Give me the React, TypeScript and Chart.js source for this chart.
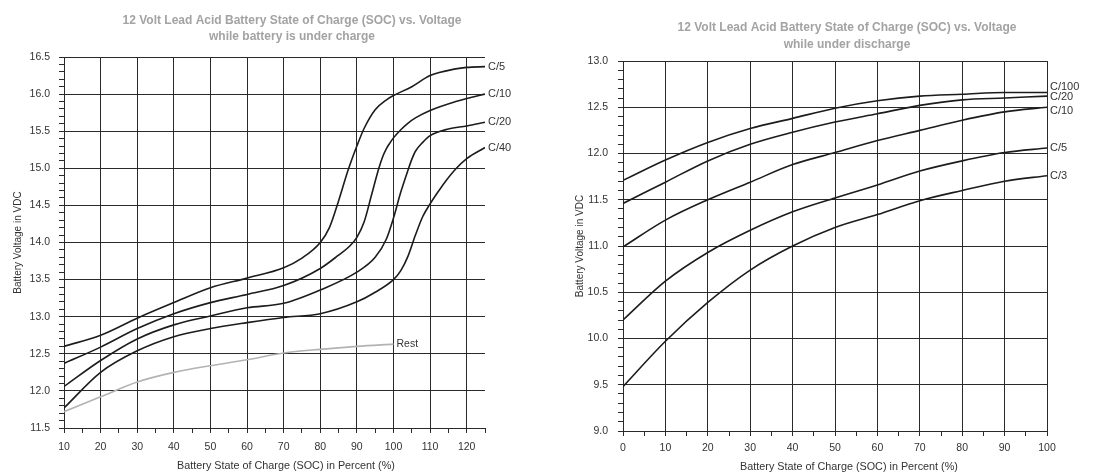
import React, { useEffect, useRef } from "react";
import { Chart, registerables } from "chart.js";

Chart.register(...registerables);

// ---------- Left chart: under charge ----------
const chargeTitle = ["12 Volt Lead Acid Battery State of Charge (SOC) vs. Voltage", "while battery is under charge"];
const c5X = [10, 20, 30, 40, 50, 60, 70, 75, 80, 82.5, 85, 87.5, 90, 92, 95, 98, 100, 105, 110, 117, 120, 125];
const c5Y = [12.6, 12.75, 12.98, 13.19, 13.39, 13.52, 13.66, 13.79, 14.0, 14.2, 14.56, 14.96, 15.3, 15.54, 15.79, 15.92, 15.98, 16.1, 16.25, 16.34, 16.36, 16.37];
const c10X = [10, 20, 30, 40, 50, 60, 70, 80, 85, 88, 90, 92, 94, 96, 97, 98, 99, 100, 102, 104, 106, 110, 117, 120, 125];
const c10Y = [12.37, 12.59, 12.84, 13.04, 13.19, 13.3, 13.42, 13.65, 13.83, 13.95, 14.07, 14.28, 14.64, 15.0, 15.15, 15.26, 15.34, 15.41, 15.52, 15.61, 15.68, 15.78, 15.9, 15.94, 16.0];
const c20X = [10, 20, 30, 40, 50, 60, 70, 80, 90, 95, 98, 100, 102, 104, 105, 106, 108, 110, 115, 120, 125];
const c20Y = [12.06, 12.41, 12.7, 12.89, 13.01, 13.12, 13.18, 13.36, 13.6, 13.8, 14.04, 14.33, 14.68, 14.98, 15.12, 15.23, 15.35, 15.44, 15.53, 15.57, 15.62];
const c40X = [10, 20, 30, 40, 50, 60, 70, 80, 90, 95, 100, 102, 104, 106, 108, 110, 112, 114, 117, 120, 125];
const c40Y = [11.77, 12.25, 12.54, 12.73, 12.84, 12.92, 12.99, 13.04, 13.2, 13.33, 13.5, 13.62, 13.82, 14.1, 14.35, 14.52, 14.67, 14.81, 14.99, 15.13, 15.28];
const restX = [10, 20, 30, 40, 50, 60, 70, 80, 90, 100];
const restY = [11.72, 11.92, 12.12, 12.25, 12.34, 12.42, 12.51, 12.56, 12.6, 12.63];
const chargeNames = ["C/5", "C/10", "C/20", "C/40", "Rest"];

// ---------- Right chart: under discharge ----------
const dischargeTitle = ["12 Volt Lead Acid Battery State of Charge (SOC) vs. Voltage", "while under discharge"];
const socX = [0, 10, 20, 30, 40, 50, 60, 70, 80, 90, 100];
const d100Y = [11.71, 11.93, 12.12, 12.27, 12.38, 12.49, 12.57, 12.62, 12.64, 12.66, 12.66];
const d20Y = [11.46, 11.69, 11.92, 12.1, 12.23, 12.34, 12.43, 12.52, 12.58, 12.6, 12.62];
const d10Y = [10.99, 11.28, 11.5, 11.69, 11.88, 12.01, 12.14, 12.25, 12.36, 12.45, 12.5];
const d5Y = [10.2, 10.62, 10.93, 11.17, 11.37, 11.52, 11.66, 11.81, 11.92, 12.01, 12.06];
const d3Y = [9.48, 9.97, 10.39, 10.74, 11.0, 11.2, 11.34, 11.49, 11.6, 11.7, 11.76];
const dischargeNames = ["C/100", "C/20", "C/10", "C/5", "C/3"];

const xTitle = "Battery State of Charge (SOC) in Percent (%)";
const yTitle = "Battery Voltage in VDC";

const FONT = "'Liberation Sans', Arial, sans-serif";
const LINE = "#1c1c1c";
const GRID = "#2a2a2a";

const pts = (xs: number[], ys: number[]) => xs.map((x, i) => ({ x, y: ys[i] }));

function near(v: number, step: number) {
  const r = v / step;
  return Math.abs(r - Math.round(r)) < 1e-6;
}

type Cfg = {
  width: number;
  height: number;
  area: { left: number; top: number; right: number; bottom: number };
  title: string[];
  titleX: number;
  titleY: number[];
  xTitleX: number;
  xTitleY: number;
  xMin: number;
  xMax: number;
  xLabelMax: number;
  yMin: number;
  yMax: number;
  yTitlePad: number;
  yTickPad: number;
  xTickPad: number;
  series: { name: string; data: { x: number; y: number }[]; color: string; dy: number; size: number }[];
};

function makeChart(canvas: HTMLCanvasElement, c: Cfg) {
  const labelPlugin = {
    id: "endLabels",
    afterDatasetsDraw(chart: any) {
      const ctx = chart.ctx;
      ctx.save();
      c.series.forEach((s) => {
        const last = s.data[s.data.length - 1];
        const px = chart.scales.x.getPixelForValue(last.x);
        const py = chart.scales.y.getPixelForValue(last.y);
        ctx.font = `${s.size}px ${FONT}`;
        ctx.fillStyle = "#333";
        ctx.textAlign = "left";
        ctx.textBaseline = "middle";
        ctx.fillText(s.name, px + 3, py + s.dy);
      });
      ctx.restore();
    },
  };
  const titlePlugin = {
    id: "texts",
    afterDraw(chart: any) {
      const ctx = chart.ctx;
      ctx.save();
      ctx.font = `bold 12px ${FONT}`;
      ctx.fillStyle = "#a3a3a3";
      ctx.textAlign = "center";
      ctx.textBaseline = "middle";
      c.title.forEach((t, i) => ctx.fillText(t, c.titleX, c.titleY[i]));
      ctx.font = `10.8px ${FONT}`;
      ctx.fillStyle = "#333";
      ctx.fillText(xTitle, c.xTitleX, c.xTitleY);
      ctx.restore();
    },
  };

  return new Chart(canvas, {
    type: "scatter",
    data: {
      datasets: c.series.map((s) => ({
        label: s.name,
        data: s.data,
        showLine: true,
        borderColor: s.color,
        backgroundColor: s.color,
        borderWidth: 1.6,
        pointRadius: 0,
        pointHoverRadius: 0,
        cubicInterpolationMode: "monotone" as const,
      })),
    },
    options: {
      responsive: false,
      animation: false,
      devicePixelRatio: 1,
      layout: {
        padding: { left: 0, top: c.area.top, right: c.width - c.area.right, bottom: 0 },
      },
      plugins: { legend: { display: false }, tooltip: { enabled: false }, title: { display: false } },
      scales: {
        x: {
          type: "linear",
          min: c.xMin,
          max: c.xMax,
          border: { display: true, color: GRID, width: 1 },
          grid: {
            color: (ctx: any) => (near(ctx.tick.value, 10) ? GRID : "rgba(0,0,0,0)"),
            tickColor: GRID,
            tickLength: 5,
            lineWidth: 1,
          },
          ticks: {
            stepSize: 5,
            autoSkip: false,
            maxRotation: 0,
            minRotation: 0,
            padding: c.xTickPad,
            color: "#333",
            font: { family: FONT, size: 10.5 },
            callback: (v: any) => (near(Number(v), 10) && Number(v) <= c.xLabelMax ? String(v) : ""),
          },
          title: { display: false },
          afterFit: (scale: any) => {
            scale.height = c.height - c.area.bottom;
          },
        },
        y: {
          type: "linear",
          min: c.yMin,
          max: c.yMax,
          border: { display: true, color: GRID, width: 1 },
          grid: {
            color: (ctx: any) => (near(ctx.tick.value, 0.5) ? GRID : "rgba(0,0,0,0)"),
            tickColor: GRID,
            tickLength: 5,
            lineWidth: 1,
          },
          ticks: {
            stepSize: 0.1,
            autoSkip: false,
            padding: c.yTickPad,
            color: "#333",
            font: { family: FONT, size: 10.5 },
            callback: (v: any) => (near(Number(v), 0.5) ? Number(v).toFixed(1) : ""),
          },
          title: {
            display: true,
            text: yTitle,
            color: "#333",
            font: { family: FONT, size: 10 },
            padding: { top: c.yTitlePad, bottom: 0 },
          },
          afterFit: (scale: any) => {
            scale.width = c.area.left;
          },
        },
      },
    } as any,
    plugins: [labelPlugin, titlePlugin],
  });
}

const leftCfg: Cfg = {
  width: 555,
  height: 475,
  area: { left: 64, top: 57, right: 485, bottom: 428 },
  title: chargeTitle,
  titleX: 292,
  titleY: [21, 37],
  xTitleX: 286,
  xTitleY: 466,
  xMin: 10,
  xMax: 125,
  xLabelMax: 120,
  yMin: 11.5,
  yMax: 16.5,
  yTitlePad: 12,
  yTickPad: 9,
  xTickPad: 8,
  series: [
    { name: chargeNames[0], data: pts(c5X, c5Y), color: LINE, dy: 0, size: 11 },
    { name: chargeNames[1], data: pts(c10X, c10Y), color: LINE, dy: 0, size: 11 },
    { name: chargeNames[2], data: pts(c20X, c20Y), color: LINE, dy: 0, size: 11 },
    { name: chargeNames[3], data: pts(c40X, c40Y), color: LINE, dy: 0, size: 11 },
    { name: chargeNames[4], data: pts(restX, restY), color: "#b3b3b3", dy: 0, size: 10.5 },
  ],
};

const rightCfg: Cfg = {
  width: 554,
  height: 475,
  area: { left: 68, top: 61, right: 492, bottom: 431 },
  title: dischargeTitle,
  titleX: 292,
  titleY: [28, 45],
  xTitleX: 294,
  xTitleY: 467,
  xMin: 0,
  xMax: 100,
  xLabelMax: 100,
  yMin: 9,
  yMax: 13,
  yTitlePad: 19,
  yTickPad: 10,
  xTickPad: 6,
  series: [
    { name: dischargeNames[0], data: pts(socX, d100Y), color: LINE, dy: -5, size: 11 },
    { name: dischargeNames[1], data: pts(socX, d20Y), color: LINE, dy: 1, size: 11 },
    { name: dischargeNames[2], data: pts(socX, d10Y), color: LINE, dy: 4, size: 11 },
    { name: dischargeNames[3], data: pts(socX, d5Y), color: LINE, dy: 0, size: 11 },
    { name: dischargeNames[4], data: pts(socX, d3Y), color: LINE, dy: 0, size: 11 },
  ],
};

export default function App() {
  const leftRef = useRef<HTMLCanvasElement | null>(null);
  const rightRef = useRef<HTMLCanvasElement | null>(null);

  useEffect(() => {
    const a = leftRef.current ? makeChart(leftRef.current, leftCfg) : null;
    const b = rightRef.current ? makeChart(rightRef.current, rightCfg) : null;
    return () => {
      a?.destroy();
      b?.destroy();
    };
  }, []);

  return (
    <div style={{ position: "fixed", left: 0, top: 0, width: 1109, height: 475, background: "#fff" }}>
      <canvas ref={leftRef} width={555} height={475} style={{ position: "absolute", left: 0, top: 0, width: 555, height: 475 }} />
      <canvas ref={rightRef} width={554} height={475} style={{ position: "absolute", left: 555, top: 0, width: 554, height: 475 }} />
    </div>
  );
}
